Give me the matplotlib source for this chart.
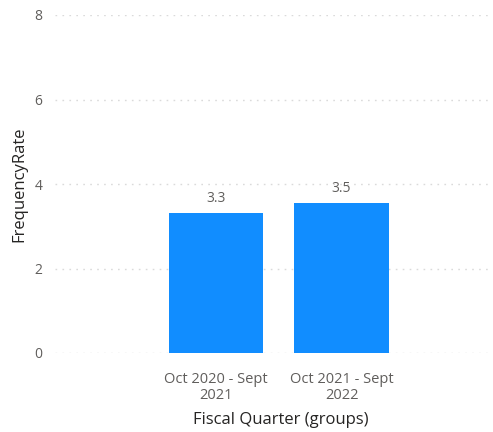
import matplotlib.pyplot as plt

plt.rcParams['font.family'] = ['Open Sans', 'DejaVu Sans']

# FrequencyRate per fiscal period
periods = ["Oct 2020 - Sept\n2021", "Oct 2021 - Sept\n2022"]
freq_rate = [3.31, 3.54]
y_ticks = [0, 2, 4, 6, 8]

bar_color = "#118DFF"
tick_color = "#605E5C"
title_color = "#252423"

fig = plt.figure(figsize=(4.93, 4.32), dpi=100)
ax = fig.add_axes([55 / 493, 79 / 432, 438 / 493, 338 / 432])

x = list(range(len(periods)))
bars = ax.bar(x, freq_rate, width=0.75, color=bar_color, zorder=3)

for xi, v in zip(x, freq_rate):
    ax.annotate("{:.1f}".format(v), (xi, v), xytext=(0, 5), textcoords="offset points",
                ha="center", va="bottom", fontsize=10, color=tick_color)

ax.set_xlim(-1.283, 2.207)
ax.set_ylim(0, 8)
ax.set_yticks(y_ticks)
ax.set_xticks(x)
ax.set_xticklabels(periods, linespacing=1.05)
ax.tick_params(axis="both", length=0, labelsize=10, colors=tick_color)
ax.tick_params(axis="x", labelsize=10.5, pad=14)
ax.tick_params(axis="y", pad=9)

ax.grid(axis="y", color="#DADADA", linewidth=1, linestyle=(0, (1.2, 3.8)), zorder=0)
ax.grid(axis="x", visible=False)
for s in ax.spines.values():
    s.set_visible(False)

ax.set_ylabel("FrequencyRate", fontsize=12, color=title_color)
ax.set_xlabel("Fiscal Quarter (groups)", fontsize=12, color=title_color)
ax.xaxis.set_label_coords((281 - 55) / 438, -(412 - 353) / 338)
ax.yaxis.set_label_coords((27 - 55) / 438, 0.5)

fig.savefig("out.png", dpi=100)
